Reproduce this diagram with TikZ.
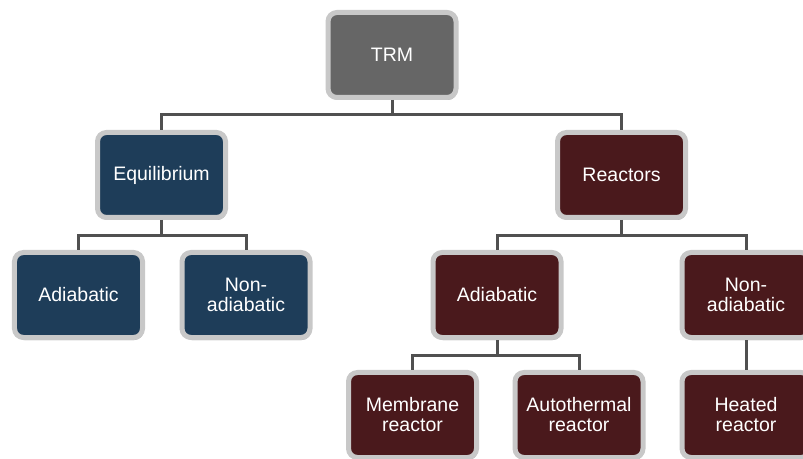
\documentclass[tikz,border=0pt]{standalone}
\usepackage{fontspec}
\setmainfont{Liberation Sans}
\usetikzlibrary{shadows}
\definecolor{trmgray}{HTML}{666666}
\definecolor{eqblue}{HTML}{1E3D59}
\definecolor{remaroon}{HTML}{4A191C}
\definecolor{rimgray}{HTML}{C8C8C8}
\definecolor{conngray}{HTML}{505050}
\tikzset{
  box/.style={draw=rimgray, line width=5bp, rounded corners=9bp,
    minimum width=128bp, minimum height=85bp, text=white, align=center,
    font=\fontsize{19.5bp}{20bp}\selectfont,
    drop shadow={shadow xshift=1bp, shadow yshift=-2.5bp, opacity=0.3, fill=black}},
  trmbox/.style={box, fill=trmgray},
  bluebox/.style={box, fill=eqblue},
  redbox/.style={box, fill=remaroon},
  conn/.style={draw=conngray, line width=3bp}
}
\begin{document}
\begin{tikzpicture}[x=1bp, y=-1bp]
\useasboundingbox[fill=white] (0,0) rectangle (803,459);
\node[trmbox] (trm) at (392,55) {TRM};
\node[bluebox] (eq) at (161.5,175) {Equilibrium};
\node[redbox] (re) at (621.5,175) {Reactors};
\node[bluebox] (a1) at (78.5,295) {Adiabatic};
\node[bluebox] (n1) at (246,295) {Non-\\adiabatic};
\node[redbox] (a2) at (497,295) {Adiabatic};
\node[redbox] (n2) at (746,295) {Non-\\adiabatic};
\node[redbox] (mr) at (412.5,415) {Membrane\\reactor};
\node[redbox] (ar) at (579,415) {Autothermal\\reactor};
\node[redbox] (hr) at (746,415) {Heated\\reactor};
\draw[conn] (trm.south) -- ++(0,15) -| (eq.north);
\draw[conn] (trm.south) ++(0,15) -| (re.north);
\draw[conn] (eq.south) -- ++(0,16) -| (a1.north);
\draw[conn] (eq.south) ++(0,16) -| (n1.north);
\draw[conn] (re.south) -- ++(0,16) -| (a2.north);
\draw[conn] (re.south) ++(0,16) -| (n2.north);
\draw[conn] (a2.south) -- ++(0,15) -| (mr.north);
\draw[conn] (a2.south) ++(0,15) -| (ar.north);
\draw[conn] (n2.south) -- (hr.north);
\end{tikzpicture}
\end{document}
